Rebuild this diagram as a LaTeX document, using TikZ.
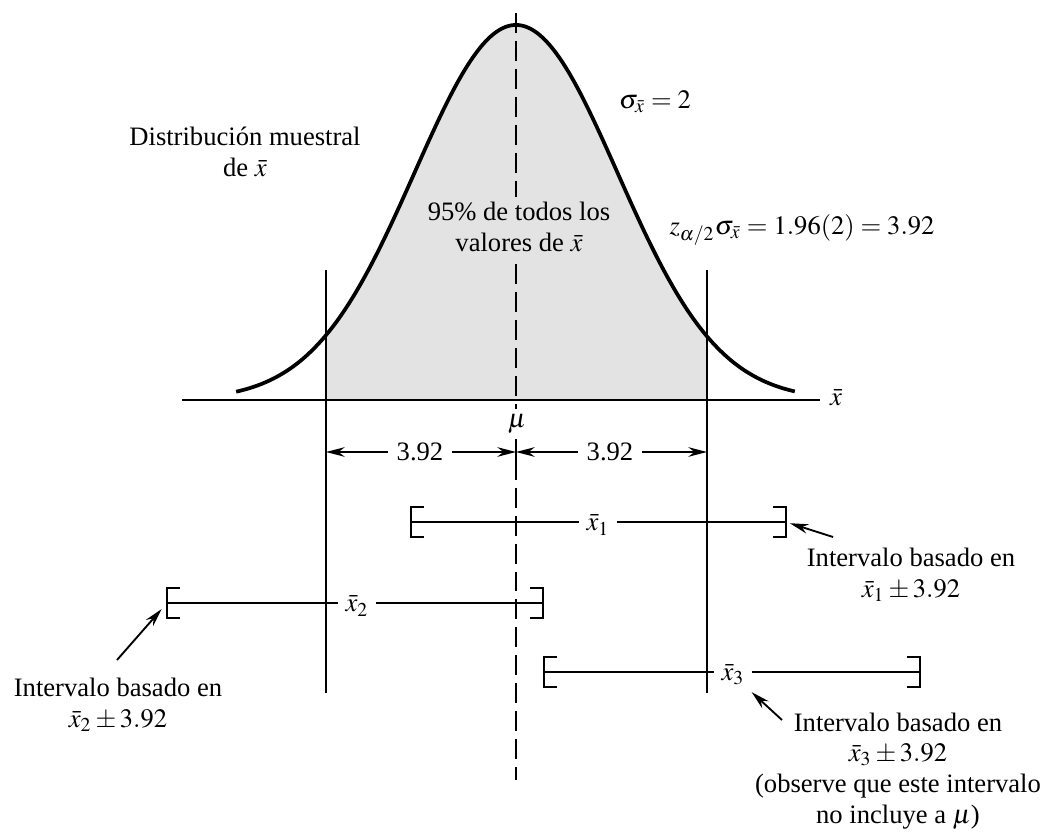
\documentclass[tikz,border=0pt]{standalone}
\usepackage{mathptmx}
\usepackage[no-math]{fontspec}
\setmainfont{Liberation Serif}
\usetikzlibrary{arrows.meta}

\begin{document}
\begin{tikzpicture}[
    x=0.376pt, y=-0.376pt,
    curve/.style={line width=1.4pt, line join=round},
    area/.style={fill=gray!22},
    vline/.style={line width=0.8pt},
    mid/.style={line width=0.9pt, dash pattern=on 7.5pt off 3pt},
    bar/.style={line width=0.8pt},
    dim/.style={line width=0.7pt, -{Stealth[length=7pt, width=3.6pt]}},
    pointer/.style={line width=0.7pt, -{Stealth[length=7pt, width=3.6pt]}},
    lbl/.style={font=\fontsize{10}{11.5}\selectfont, align=center, inner sep=1pt},
    onbar/.style={font=\fontsize{10}{11.5}\selectfont, inner sep=2.5pt}
]
    \useasboundingbox (0,0) rectangle (1056,837);

    % sampling distribution
    \fill[area] plot[domain=-1.884:1.884, samples=60]
        ({516+101.4*\x}, {400-375*exp(-\x*\x/2)}) -- (707,400) -- (325,400) -- cycle;
    \draw[curve] plot[domain=-2.76:2.75, samples=90, smooth]
        ({516+101.4*\x}, {400-375*exp(-\x*\x/2)});

    \coordinate (axL) at (182,400);
    \coordinate (axR) at (820,400);
    \node[lbl] (xbar) at (836,398) {$\bar{x}$};
    \draw[vline] (axL) -- (axR);

    % vertical guides
    \coordinate (muTop) at (516,13);
    \coordinate (muBot) at (516,780);
    \coordinate (lTop) at (326,270);
    \coordinate (lBot) at (326,693);
    \coordinate (rTop) at (707,270);
    \coordinate (rBot) at (707,693);
    \draw[mid] (muTop) -- (muBot);
    \draw[vline] (lTop) -- (lBot);
    \draw[vline] (rTop) -- (rBot);

    % texts near the curve
    \node[lbl] (dist) at (245,152) {Distribución muestral\\de $\bar{x}$};
    \node[lbl] (sig)  at (655,102) {$\sigma_{\bar{x}} = 2$};
    \node[lbl, fill=gray!22, inner sep=2pt] (pct) at (519,227) {95\% de todos los\\valores de $\bar{x}$};
    \node[lbl] (zval) at (802,230) {$z_{\alpha/2}\sigma_{\bar{x}} = 1.96(2) = 3.92$};
    \node[lbl, fill=white, inner sep=2pt] (mu) at (517,424) {$\mu$};

    % half widths
    \coordinate (dL) at (326,452);
    \coordinate (dM) at (516,452);
    \coordinate (dR) at (707,452);
    \node[lbl, inner sep=3pt] (lenL) at (420,452) {3.92};
    \node[lbl, inner sep=3pt] (lenR) at (610,452) {3.92};
    \draw[dim] (lenL) -- (dL);
    \draw[dim] (lenL) -- (dM);
    \draw[dim] (lenR) -- (dM);
    \draw[dim] (lenR) -- (dR);
    \draw[vline] (516,440) -- (516,464);

    % intervals
    \coordinate (i1l) at (411,522);
    \coordinate (i1r) at (786,522);
    \coordinate (i2l) at (167,603);
    \coordinate (i2r) at (543,603);
    \coordinate (i3l) at (544,672);
    \coordinate (i3r) at (920,672);
    \node[onbar] (x1) at (598,525) {$\bar{x}_1$};
    \node[onbar] (x2) at (357,606) {$\bar{x}_2$};
    \node[onbar] (x3) at (733,675) {$\bar{x}_3$};

    \draw[bar] (i1l) -- (x1.west |- i1l) (x1.east |- i1r) -- (i1r);
    \draw[bar] (i2l) -- (x2.west |- i2l) (x2.east |- i2r) -- (i2r);
    \draw[bar] (i3l) -- (x3.west |- i3l) (x3.east |- i3r) -- (i3r);
    \foreach \p in {i1l,i2l,i3l}
        \draw[bar] (\p) ++(13,-15) -- ++(-13,0) -- ++(0,30) -- ++(13,0);
    \foreach \p in {i1r,i2r,i3r}
        \draw[bar] (\p) ++(-13,-15) -- ++(13,0) -- ++(0,30) -- ++(-13,0);

    % notes
    \node[lbl] (n1) at (911,575) {Intervalo basado en\\$\bar{x}_1 \pm 3.92$};
    \node[lbl] (n2) at (118,705) {Intervalo basado en\\$\bar{x}_2 \pm 3.92$};
    \node[lbl] (n3) at (898,771) {Intervalo basado en\\$\bar{x}_3 \pm 3.92$\\
        (observe que este intervalo\\no incluye a $\mu$)};

    \coordinate (t1) at (833,537);
    \coordinate (t2) at (117,660);
    \coordinate (t3) at (782,720);
    \draw[pointer, shorten >=1.5pt] (t1) -- (i1r);
    \draw[pointer, shorten >=3pt] (t2) -- (i2l);
    \draw[pointer] (t3) -- (x3);

\end{tikzpicture}
\end{document}
